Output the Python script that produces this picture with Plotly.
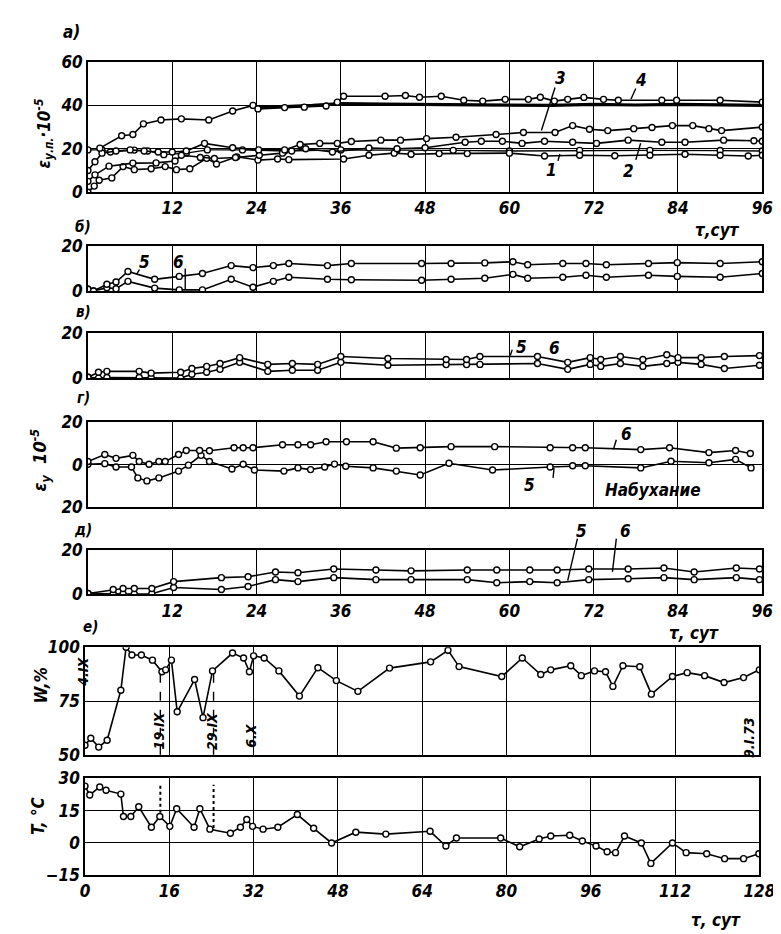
import plotly.graph_objects as go

W, H = 781, 934
FONT = "Liberation Sans Narrow, DejaVu Sans Condensed, Arial Narrow, DejaVu Sans, sans-serif"

# ---------------- data ----------------
# panel a (0..96 days)
A4_X = [1.7, 4.8, 6.4, 7.9, 10.4, 13.3, 17.2, 20.6, 23.5, 24.2, 28, 30.8, 33.9, 35.5, 36.4, 42.3, 45.2, 47.2, 50.3,
        53.5, 56.2, 59.4, 62.7, 64.4, 66.4, 68.3, 70.6, 73.4, 75.5, 81.7, 83.8, 90, 96]
A4_Y = [20.3, 26, 26.6, 31.5, 33.3, 33.8, 33.3, 37.4, 40, 38.4, 39, 39.2, 39.7, 41.5, 44.2, 44.2, 44.6, 43.8, 44.2,
        42.4, 42, 42.8, 42.8, 43.8, 42, 42.8, 43.7, 42.8, 42.4, 42.4, 42.4, 42.4, 41.5]
A4B_X = [24, 28, 32, 36, 42, 48, 54, 60, 66, 72, 78, 84, 90, 96]
A4B_Y = [39.5, 39.5, 40, 40.8, 40.6, 40.5, 40.2, 40.2, 40, 40.5, 40.2, 40.5, 40.2, 40]
A3_X = [0, 1, 2, 4, 6, 8, 10, 12, 14, 16.6, 20.6, 24.3, 28, 30.2, 33, 35.5, 37.5, 41.7, 44.5, 48.2, 52.4, 58.1, 62,
        66.5, 69, 71.4, 74, 77.7, 80.3, 83.2, 86.1, 88.4, 90.2, 96]
A3_Y = [10, 14, 18, 19, 19.5, 19, 18.5, 18.5, 19, 22.5, 20.5, 19.5, 19.5, 22, 22.5, 22.5, 23.4, 24, 24, 24.7, 25.3,
        26.6, 27.5, 27.5, 30.7, 29, 28.4, 29.3, 29.8, 30.7, 30.7, 29.3, 28.4, 30]
A2_X = [0, 1, 3, 6.4, 9.7, 12.4, 13.3, 16, 18, 21, 24.4, 27.7, 29, 31, 34.8, 40, 44, 48, 53.7, 56, 59, 61.8, 65, 69,
        72.4, 76.9, 81.7, 85, 90.5, 94.8, 96]
A2_Y = [5, 8, 12, 13.4, 13.5, 14.4, 17, 16, 15.5, 16, 17, 18, 19, 20, 18.5, 20.4, 20, 20.5, 23, 23.5, 23.5, 22.5,
        23.5, 23, 22.5, 24, 23, 23, 24, 23.7, 23.5]
A1_X = [0, 0.9, 1.6, 3.4, 5, 6.6, 9, 11, 12.6, 14.5, 16.9, 18.3, 21.2, 24.2, 27, 28.6, 36.4, 40, 43.6, 46, 50, 54, 60,
        65, 70, 75, 80, 85, 90, 94, 96]
A1_Y = [0, 2.8, 5.5, 6.6, 11.8, 10.4, 10.8, 11.8, 10.4, 10.8, 15.6, 13, 16.3, 14.8, 15.3, 15, 15.3, 17, 18, 17.5,
        17.8, 17.8, 18, 16.7, 17, 16.8, 17, 17.5, 17, 16.7, 17]
A0_X = [0, 2, 3.2, 6.6, 8.5, 10.8, 14, 17, 22, 28, 36, 44, 52, 60, 70, 80, 90, 96]
A0_Y = [19.5, 19.5, 18.5, 19.4, 19, 17.3, 18, 19.5, 19.5, 19, 19.5, 19.5, 19.3, 19, 19.3, 19.3, 19.2, 19]

# panel б
B_X = [0, 0.8, 2.7, 4, 5.7, 9.5, 13, 16.3, 20.4, 23.5, 26.4, 28.6, 34.1, 37.5, 47.5, 51.7, 56.5, 60.5, 62.6, 67.6,
       70.9, 73.8, 79.8, 83.9, 90, 96]
B6_Y = [0.8, 0, 3, 4, 8.7, 5.2, 6.5, 7.8, 11.3, 10.4, 11.3, 12.2, 11.3, 12.2, 12.2, 12.2, 12.5, 13, 11.7, 12.2, 12.2,
        11.7, 12.2, 12.6, 12.2, 13]
B5_Y = [0.8, 0, 1.5, 1, 4.3, 1.3, 0.5, 0.5, 5.2, 1.7, 4.3, 6.1, 5.2, 5, 4.8, 5.2, 5.7, 7.4, 5.7, 6.1, 7, 6.1, 7, 6.5,
        6.1, 7.8]

# panel в
V_X = [0, 1.5, 2.7, 7.3, 9, 13.2, 14.8, 16.9, 18.8, 21.6, 25.6, 29.1, 32.7, 36, 42.7, 51, 53.9, 55.8, 64, 68.3, 71.5,
       73, 75.8, 79, 82.4, 84, 87.3, 90.6, 95.6]
V6_Y = [0.4, 2.6, 3, 3, 2.2, 2.6, 4.3, 5.2, 6.5, 9.1, 6.1, 6.5, 6.1, 9.6, 8.7, 8.3, 8.3, 9.6, 9.6, 7, 9.1, 8.3, 9.6,
        8.3, 10.4, 9.1, 9.1, 9.6, 10]
V5_Y = [0.4, 0, 0.3, 0.3, 0.3, 0, 1.7, 2.6, 3.9, 7, 3, 3.5, 3.5, 7, 5.7, 6, 6, 6.1, 6.5, 3.9, 6.1, 5.2, 6.5, 5.2, 6.5,
        7, 6.1, 4.3, 5.7]

# panel г
G6_X = [0, 2.4, 4, 6.4, 7.3, 8.7, 10.1, 11, 12.9, 14, 15.9, 17.3, 20.8, 22.1, 23.5, 27.7, 29.9, 31.7, 33.9, 36.8,
        40.6, 43.9, 47.3, 51.7, 57.9, 65.8, 69, 70.8, 78.7, 82.8, 88.4, 92.2, 94.3]
G6_Y = [1.5, 4.8, 3, 4.4, 1.5, 0.2, 1.5, 1.5, 4.8, 6.7, 6.7, 6.6, 8, 8, 8, 9.4, 9.4, 9.4, 10.8, 10.8, 10.8, 7.8, 8,
        8.5, 8.5, 8, 8, 8, 7.1, 8, 5.7, 6.7, 5.3]
G5_X = [0, 2.4, 4, 6.2, 7.1, 8.4, 10.1, 12.9, 14.3, 16.1, 17.3, 20.5, 22.1, 23.7, 27.9, 29.9, 31.7, 33.7, 35.1, 36.7,
        40.6, 43.9, 47.3, 51.4, 57.6, 65.8, 69, 70.8, 78.7, 83, 88.4, 92.2, 94.4]
G5_Y = [0.2, 0.5, -1.1, -1.1, -6.2, -7.6, -6.2, -3, -0.2, 4.4, 1.5, -2, 0.2, -2.5, -3, -1.5, -2.3, -1.1, 0.3, -0.7,
        -1.5, -3, -4.8, 0.7, -2.5, -1.1, -0.5, -0.5, -1.5, 1.6, 0.9, 2.5, -1.5]

# panel д
D_X = [0, 3.6, 5, 6.6, 9.1, 12.2, 19, 22.8, 26.7, 29.9, 35, 41, 46, 54, 58.2, 62.9, 66.8, 71.3, 76.9, 82, 86.3, 92.3,
       95.6]
D6_Y = [0.4, 2.2, 2.7, 2.7, 2.7, 5.8, 7.6, 8, 10.2, 9.8, 11.5, 11.1, 10.7, 11.1, 11.1, 11.1, 11.1, 11.5, 11.5, 12,
        10.2, 12, 11.5]
D5_Y = [0.4, 0.2, 0.2, 0.2, 0.3, 3.1, 2.2, 3.6, 6.7, 5.8, 7.6, 6.7, 6.7, 6.7, 5.3, 5.8, 5.3, 6.7, 7.1, 7.6, 6.7, 7.6,
        6.7]

# panel е (W, %) 0..128 days
W_X = [0, 1.1, 2.6, 4.2, 6.8, 7.8, 8.9, 10.7, 12.8, 14.6, 15.3, 16.4, 17.5, 20.8, 22.4, 24.2, 28, 30.1, 31.2, 32,
       34, 36.8, 40.7, 44.2, 47.7, 51.8, 57.8, 65.6, 68.9, 71, 79.1, 83, 86.5, 88.4, 92.2, 94.2, 96.7, 98.8, 100.2,
       102.1, 105.3, 107.5, 111.5, 114.3, 117.6, 121.3, 125, 128]
W_Y = [54.5, 57.7, 53.6, 56.8, 80, 100, 96.4, 96.4, 94, 88.6, 89.5, 94, 70, 85, 67.3, 89, 97.3, 95, 88.6, 96, 95, 89,
       77.3, 90.5, 84.5, 79.5, 90.3, 93.2, 98.6, 91, 86.4, 95, 87.3, 89.5, 91.4, 86.8, 89, 88.6, 81.8, 91.4, 90.9,
       78.2, 86.4, 88.2, 86.8, 83.6, 85.9, 89.5]

# panel T (°C)
T_X = [0, 0.9, 2.8, 4, 6.8, 7.3, 8.7, 10.2, 12.6, 14.2, 16.1, 17.4, 20.7, 21.8, 23.7, 27.6, 29.5, 30.7, 31.8, 33.8,
       36.6, 40.3, 43.4, 46.8, 51.4, 57.1, 65.5, 68.5, 70.5, 78.9, 82.5, 86.2, 88.4, 92, 94.4, 97, 99.1, 100.7, 102.4,
       105.6, 107.4, 111.5, 114.1, 118, 121.4, 125, 127.9]
T_Y = [26.4, 22.3, 26, 24.5, 22.7, 12.3, 12.3, 16.8, 7.3, 12.3, 7.7, 15.9, 7.3, 15.9, 6.4, 4.5, 7.3, 10.9, 7.7, 6.4,
       7.3, 13.2, 6.8, 0, 5, 4.1, 5.4, -1.4, 2.3, 2.3, -1.8, 1.8, 3.2, 3.6, 0.9, -1.4, -4.1, -4.5, 3.2, 0, -9.5, 0,
       -4.5, -5, -7.3, -7.3, -5]

DAY_TICKS_A = [0, 12, 24, 36, 48, 60, 72, 84, 96]
DAY_TICKS_W = [0, 16, 32, 48, 64, 80, 96, 112, 128]
DATE_MARKS = [14.3, 24.4]

# ---------------- figure ----------------
def px(x):
    return x / W


def py(y):
    return 1 - y / H


fig = go.Figure()
TXT = dict(family=FONT, size=17, color="black", style="italic", weight="bold")


def add(x, y, n, lw=1.6, mk=True, msize=6):
    fig.add_trace(go.Scatter(
        x=x, y=y, xaxis="x" + str(n), yaxis="y" + str(n),
        mode="lines+markers" if mk else "lines",
        line=dict(color="black", width=lw),
        marker=dict(symbol="circle", size=msize, color="white", line=dict(color="black", width=1.4)),
        showlegend=False, hoverinfo="skip"))


add(A0_X, A0_Y, 1, lw=1.3)
add(A1_X, A1_Y, 1)
add(A2_X, A2_Y, 1)
add(A3_X, A3_Y, 1)
add(A4B_X, A4B_Y, 1, lw=3.2, mk=False)
add(A4_X, A4_Y, 1)
add(B_X, B5_Y, 2)
add(B_X, B6_Y, 2)
add(V_X, V5_Y, 3)
add(V_X, V6_Y, 3)
add(G5_X, G5_Y, 4)
add(G6_X, G6_Y, 4)
add(D_X, D5_Y, 5)
add(D_X, D6_Y, 5)
add(W_X, W_Y, 6)
add(T_X, T_Y, 7)

# panel geometry (pixels): left, right, top, bottom
PANELS = {
    1: (77, 770, 45, 178),
    2: (77, 770, 233, 279),
    3: (77, 770, 322, 368),
    4: (77, 770, 413, 500),
    5: (77, 770, 544, 589),
    6: (74, 767, 643, 753),
    7: (74, 767, 777, 876),
}
YCONF = {
    1: dict(range=[0, 60], tickvals=[0, 20, 40, 60]),
    2: dict(range=[0, 20], tickvals=[0, 20]),
    3: dict(range=[0, 20], tickvals=[0, 20]),
    4: dict(range=[-20, 20], tickvals=[-20, 0, 20], ticktext=["20", "0", "20"]),
    5: dict(range=[0, 20], tickvals=[0, 20]),
    6: dict(range=[50, 100], tickvals=[50, 75, 100]),
    7: dict(range=[-15, 30], tickvals=[-15, 0, 15, 30]),
}
layout = dict(width=W, height=H, margin=dict(l=0, r=0, t=0, b=0),
              paper_bgcolor="white", plot_bgcolor="white", showlegend=False)
for n, (l, r, t, b) in PANELS.items():
    xs = "" if n == 1 else str(n)
    days = DAY_TICKS_A if n <= 5 else DAY_TICKS_W
    layout["xaxis" + xs] = dict(
        domain=[px(l), px(r)], anchor="y" + str(n), range=[days[0], days[-1]],
        tickvals=days, ticktext=[(" " if v == 0 and n != 7 else str(v)) for v in days],
        showticklabels=n in (1, 5, 7), ticks="", showgrid=True, gridcolor="black", gridwidth=1.3,
        showline=True, mirror=True, linecolor="black", linewidth=1.6, zeroline=False,
        tickfont=TXT, fixedrange=True)
    yc = YCONF[n]
    layout["yaxis" + xs] = dict(
        domain=[py(b), py(t)], anchor="x" + str(n), ticks="", showgrid=True, gridcolor="black",
        gridwidth=1.3, showline=True, mirror=True, linecolor="black", linewidth=1.6, zeroline=False,
        tickfont=TXT, fixedrange=True, **yc)
fig.update_layout(**layout)

ann = []


def label(text, x, y, size=17, angle=0, xanchor="center"):
    f = dict(TXT)
    f["size"] = size
    ann.append(dict(text=text, x=px(x), y=py(y), xref="paper", yref="paper", showarrow=False,
                    font=f, textangle=angle, xanchor=xanchor, yanchor="middle"))


label("а)", 60, 14)
label("б)", 72, 214, size=15)
label("в)", 72, 300, size=15)
label("г)", 72, 388, size=15)
label("д)", 72, 523, size=15)
label("е)", 80, 622, size=15)
label("τ,сут", 724, 217)
label("τ, сут", 700, 628)
label("τ, сут", 722, 922)
# curve labels
label("3", 563, 61)
label("4", 645, 63)
label("1", 553, 155)
label("2", 633, 156)
label("5", 135, 249)
label("6", 170, 249)
label("5", 523, 336)
label("6", 556, 337)
label("6", 630, 425)
label("5", 531, 477)
label("Набухание", 658, 482, size=17)
label("5", 584, 524)
label("6", 629, 524)
# axis titles
label("ε<sub>у.п.</sub>·10<sup>-5</sup>", 32, 118, angle=-90)
label("ε<sub>у</sub>  10<sup>-5</sup>", 28, 452, size=18, angle=-90)
label("W,%", 29, 682, angle=-90)
label("T, °C", 25, 815, angle=-90)
# dates
label("4.IX", 72, 668, size=14, angle=-90)
label("19.IX", 150, 728, size=14, angle=-90)
label("29.IX", 205, 728, size=14, angle=-90)
label("6.X", 245, 733, size=14, angle=-90)
label("9.I.73", 757, 735, size=14, angle=-90)
fig.update_layout(annotations=ann)

shapes = []


def seg(x0, y0, x1, y1, dash="solid", w=1.4):
    shapes.append(dict(type="line", xref="paper", yref="paper", x0=px(x0), y0=py(y0), x1=px(x1), y1=py(y1),
                       line=dict(color="black", width=w, dash=dash)))


# leader ticks
seg(557, 71, 543, 115)
seg(640, 72, 635, 83)
seg(560, 146, 562, 139)
seg(640, 145, 645, 128)
seg(130, 257, 127, 262)
seg(177, 256, 177, 278)
seg(513, 339, 511, 345)
seg(620, 431, 617, 441)
seg(555, 470, 556, 460)
seg(580, 532, 570, 575)
seg(620, 532, 616, 566)
fig.update_layout(shapes=shapes)

# dashed date markers in W and T panels (data coordinates)
for xm, wtop, ttop, tbot in zip(DATE_MARKS, [88, 88], [28, 27], [14, 7]):
    fig.add_shape(type="line", xref="x6", yref="y6", x0=xm, x1=xm, y0=50, y1=wtop,
                  line=dict(color="black", width=1.4, dash="dash"))
    fig.add_shape(type="line", xref="x7", yref="y7", x0=xm, x1=xm, y0=tbot, y1=ttop,
                  line=dict(color="black", width=2, dash="dot"))

fig.write_html("out.html")
